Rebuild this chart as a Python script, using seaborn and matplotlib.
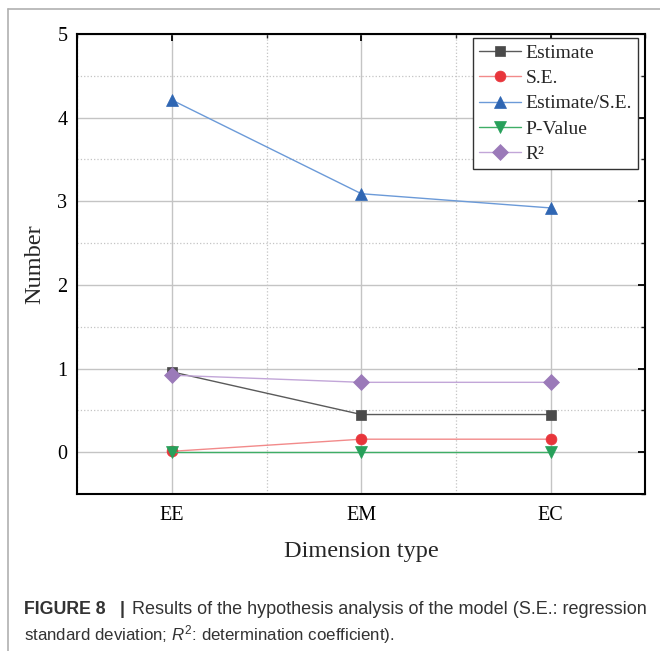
import numpy as np
import pandas as pd
import matplotlib
matplotlib.use("Agg")
import matplotlib.pyplot as plt
from matplotlib.lines import Line2D
from matplotlib.ticker import MultipleLocator
import seaborn as sns

# Données
dimensions = ["EE", "EM", "EC"]
estimate = [0.96, 0.45, 0.45]
se = [0.01, 0.155, 0.155]
estimate_se = [4.21, 3.09, 2.92]
p_value = [0.0, 0.0, 0.0]
r2 = [0.92, 0.835, 0.835]

series_names = ["Estimate", "S.E.", "Estimate/S.E.", "P-Value", "R²"]

sns.set_style("white")
plt.rcParams["font.family"] = ["Liberation Serif", "DejaVu Serif"]
plt.rcParams["mathtext.fontset"] = "custom"
plt.rcParams["mathtext.rm"] = "Liberation Sans"
plt.rcParams["mathtext.it"] = "Liberation Sans:italic"
plt.rcParams["mathtext.bf"] = "Liberation Sans:bold"

x = np.arange(len(dimensions))
df = pd.DataFrame({
    "x": np.tile(x, 5),
    "valeur": estimate + se + estimate_se + p_value + r2,
    "serie": np.repeat(series_names, len(dimensions)),
})

# couleur de la ligne, couleur du marqueur, marqueur, taille
styles = {
    "Estimate": ("#5a5a5a", "#4a4a4a", "s", 7.2),
    "S.E.": ("#f28a8a", "#e8353b", "o", 7.8),
    "Estimate/S.E.": ("#6b9ad8", "#2f66b3", "^", 9),
    "P-Value": ("#3fae66", "#27a05a", "v", 9),
    "R²": ("#c2a6d8", "#9b7ab9", "D", 8.3),
}

fig = plt.figure(figsize=(6.6, 6.51), dpi=100)
ax = fig.add_axes([0.117, 0.2412, 0.861, 0.7066])

for nom in series_names:
    lc, mc, mk, ms = styles[nom]
    sns.lineplot(
        data=df[df["serie"] == nom], x="x", y="valeur", ax=ax,
        color=lc, linewidth=1.0, marker=mk, markersize=ms,
        markerfacecolor=mc, markeredgecolor=mc, markeredgewidth=0.5,
        label=nom,
    )

ax.set_xlim(-0.5, 2.5)
ax.set_ylim(-0.5, 5)
ax.set_xticks(x)
ax.set_xticklabels(dimensions)
ax.xaxis.set_minor_locator(MultipleLocator(0.5))
ax.yaxis.set_major_locator(MultipleLocator(1))
ax.yaxis.set_minor_locator(MultipleLocator(0.5))

ax.grid(which="major", color="#c4c4c4", linewidth=1.0, linestyle="-")
ax.grid(which="minor", color="#c4c4c4", linewidth=0.9, linestyle=":")
ax.set_axisbelow(True)

ax.tick_params(which="major", direction="in", length=5, width=1.3,
               top=True, right=True, labelsize=14.5, colors="black")
ax.tick_params(which="minor", direction="in", length=3, width=1.0,
               top=True, right=True)
ax.tick_params(axis="x", which="major", pad=9)
ax.tick_params(axis="y", which="major", pad=7)
for s in ax.spines.values():
    s.set_linewidth(1.5)
    s.set_color("black")

ax.set_xlabel("Dimension type", fontsize=17.5, labelpad=11)
ax.set_ylabel("Number", fontsize=17.5, labelpad=9)

leg = ax.legend(loc="upper right", bbox_to_anchor=(0.987, 0.991),
                fontsize=14, frameon=True, fancybox=False,
                edgecolor="#333333", framealpha=1, borderaxespad=0,
                handlelength=2.15, labelspacing=0.4, borderpad=0.3,
                handletextpad=0.25)
leg.get_frame().set_linewidth(1.0)

# cadre de la figure
fig.add_artist(Line2D([0.012, 0.012], [0.0, 0.986], color="#b0b0b0", linewidth=1.2))
fig.add_artist(Line2D([0.012, 1.0], [0.986, 0.986], color="#b0b0b0", linewidth=1.2))

# légende de la figure
fig.text(0.036, 0.057, "FIGURE 8", fontsize=12.8, family="Liberation Sans",
         fontweight="bold", color="#333333")
fig.text(0.181, 0.057, "|", fontsize=12.8, family="Liberation Sans",
         fontweight="bold", color="#333333")
fig.text(0.2, 0.057,
         "Results of the hypothesis analysis of the model (S.E.: regression",
         fontsize=13.0, family="Liberation Sans", color="#333333")
fig.text(0.036, 0.016,
         r"standard deviation; $\mathit{R}^{2}$: determination coefficient).",
         fontsize=12.2, family="Liberation Sans", color="#333333")

fig.savefig("out.png", dpi=100)
